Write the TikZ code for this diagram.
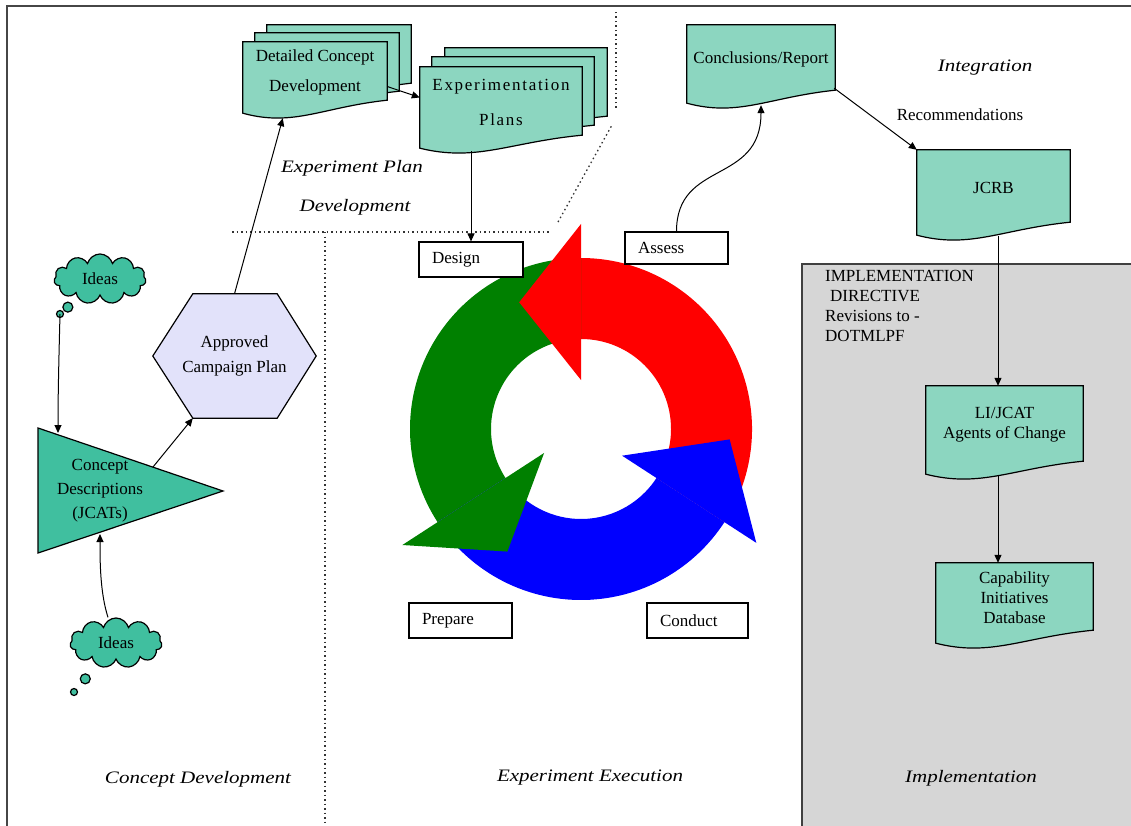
\documentclass[tikz,border=0pt]{standalone}
\usepackage{fontspec}
\setmainfont{Liberation Serif}
\newfontfamily\lblfont[FakeStretch=1.2]{Liberation Serif}
\newfontfamily\spacedfont[LetterSpace=10]{Liberation Serif}
\usetikzlibrary{arrows.meta,calc,shapes.callouts,shapes.symbols}

\pgfdeclarelayer{bgzero}
\pgfdeclarelayer{bgone}
\pgfsetlayers{bgzero,bgone,main}

\definecolor{docteal}{RGB}{140,214,192}
\definecolor{solidteal}{RGB}{64,191,159}
\definecolor{hexfill}{RGB}{226,226,250}
\definecolor{implgray}{RGB}{214,214,214}
\definecolor{framegray}{RGB}{70,70,70}
\definecolor{cgreen}{RGB}{0,128,0}

% document shape around a node: #2 name, (#3,#4) shift
\newcommand\docshape[4][]{%
  \path[#1] ($(#2.north west)+(#3,#4)$) -- ($(#2.north east)+(#3,#4)$)
    -- ($(#2.south east)+(#3,#4-3)$)
    .. controls ($(#2.south east)!0.45!(#2.south west)+(#3,#4+4)$)
    and ($(#2.south east)!0.65!(#2.south west)+(#3,#4+24)$)
    .. ($(#2.south west)+(#3,#4+10)$) -- cycle;}

\begin{document}
\begin{tikzpicture}[x=1pt,y=-1pt,
  font=\fontsize{17}{20}\selectfont,
  docnode/.style={rectangle, inner sep=0pt, align=center},
  docfill/.style={fill=docteal, draw=black, line width=1.2pt},
  box/.style={rectangle, draw=black, line width=1.1pt, fill=white,
    minimum height=35pt, inner xsep=13pt, inner ysep=0pt, align=left},
  arr/.style={-{Triangle[length=8pt,width=7pt]}, line width=1pt, black},
  lbl/.style={font={\lblfont\itshape\fontsize{17.5}{22}\selectfont}},
  divider/.style={line width=1.3pt, dash pattern=on 1.5pt off 3pt, black!80},
  ideas/.style={cloud callout, cloud puffs=11, aspect=1.8, draw=black,
    line width=1.2pt, fill=solidteal, minimum width=92pt, minimum height=50pt,
    inner sep=0pt, callout pointer segments=2,
    callout pointer start size=13pt,
    callout pointer end size=7pt},
]
\useasboundingbox (0,0) rectangle (1131,826);

% ---------- implementation region ----------
\begin{pgfonlayer}{bgzero}
  \fill[implgray] (802,264) rectangle (1140,832);
  \draw[black!75, line width=1.5pt] (1140,264) -- (802,264) -- (802,832);
\end{pgfonlayer}

% ---------- frame ----------
\draw[framegray, line width=2.5pt] (7,830) -- (7,6) -- (1135,6);

% ---------- dividers ----------
\draw[divider] (325,232) -- (325,826);
\draw[divider] (232,232) -- (551,232);
\draw[divider] (558,222) -- (612,125);
\draw[divider] (616,108) -- (616,9);

% ---------- document nodes ----------
\node[docnode, minimum width=144pt, minimum height=61pt] (dcd) at (315,72.5)
  {Detailed Concept\\[10pt]Development};
\node[docnode, minimum width=162pt, minimum height=71pt] (ep) at (501,102.5)
  {\spacedfont Experimentation\\[15pt]\spacedfont Plans};
\node[docnode, minimum width=148pt, minimum height=68pt] (concl) at (761,59)
  {Conclusions/Report};
\node[docnode, minimum width=153pt, minimum height=75pt] (jcrb) at (993.5,187.5)
  {JCRB};
\node[docnode, minimum width=157pt, minimum height=78pt] (lijcat) at (1004.5,425)
  {LI/JCAT\\Agents of Change};
\node[docnode, minimum width=157pt, minimum height=70pt] (capdb) at (1014.5,598)
  {Capability\\Initiatives\\Database};

\begin{pgfonlayer}{bgone}
  \docshape[docfill]{dcd}{24}{-17}
  \docshape[docfill]{dcd}{12}{-9}
  \docshape[docfill]{dcd}{0}{0}
  \docshape[docfill]{ep}{25}{-19}
  \docshape[docfill]{ep}{12}{-10}
  \docshape[docfill]{ep}{0}{0}
  \docshape[docfill]{concl}{0}{0}
  \docshape[docfill]{jcrb}{0}{0}
  \docshape[docfill]{lijcat}{0}{0}
  \docshape[docfill]{capdb}{0}{0}
\end{pgfonlayer}

% ---------- left column ----------
\node[align=center, inner sep=0pt] (cdesc) at (100,491)
  {Concept\\[4pt]Descriptions\\[4pt](JCATs)};
\node[minimum width=163pt, minimum height=124pt, inner sep=0pt, align=center]
  (hex) at (234.5,356) {Approved\\[5pt]Campaign Plan};
\begin{pgfonlayer}{bgone}
  \draw[fill=solidteal, line width=1.2pt, line join=miter]
    ($(cdesc)+(-62,-63)$) -- ($(cdesc)+(-62,62)$) -- ($(cdesc)+(123,0)$) -- cycle;
  \draw[fill=hexfill, line width=1.2pt]
    (hex.west) -- ($(hex.north west)+(40,0)$) -- ($(hex.north east)+(-39,0)$)
    -- (hex.east) -- ($(hex.south east)+(-39,0)$) -- ($(hex.south west)+(40,0)$) -- cycle;
\end{pgfonlayer}

\coordinate (tailone) at (60,314);
\coordinate (tailtwo) at (74,692);
\node[ideas, callout absolute pointer={(tailone)}] (ideas1) at (100,279) {Ideas};
\node[ideas, callout absolute pointer={(tailtwo)}] (ideas2) at (116,643) {Ideas};

% ---------- cycle ----------
\begin{scope}[shift={(581,429)}, yscale=-1]
  \fill[red] (-33:171) arc[start angle=-33, end angle=90, radius=171]
    -- (90:90) arc[start angle=90, end angle=-33, radius=90] -- cycle;
  \fill[cgreen] (90:171) arc[start angle=90, end angle=213, radius=171]
    -- (213:90) arc[start angle=213, end angle=90, radius=90] -- cycle;
  \fill[blue] (213:171) arc[start angle=213, end angle=327, radius=171]
    -- (327:90) arc[start angle=327, end angle=213, radius=90] -- cycle;
  \fill[red] (90:49) -- (90:205) -- (116:141) -- cycle;
  \fill[cgreen] (213:44) -- (213:213) -- (239:143) -- cycle;
  \fill[blue] (327:49) -- (327:209) -- (356:149) -- cycle;
\end{scope}

% ---------- phase boxes ----------
\node[box, text width=78pt] (design) at (471,259.5) {Design};
\node[box, text width=77pt, minimum height=32pt] (assess) at (676.5,248) {Assess};
\node[box, text width=77pt] (prepare) at (460.5,620.5) {Prepare};
\node[box, text width=75pt] (conduct) at (697.5,620.5) {Conduct};

% ---------- labels ----------
\node[lbl] (lblepa) at (352,168) {Experiment Plan};
\node[lbl] (lblepb) at (355,207) {Development};
\node[lbl] (lblint) at (985,68) {Integration};
\node (lblrec) at (960,115) {Recommendations};
\node[lbl] (lblcd) at (198,779) {Concept Development};
\node[lbl] (lblee) at (590,778) {Experiment Execution};
\node[lbl] (lblimp) at (971,778) {Implementation};
\node[anchor=north west, align=left, inner sep=0pt] (impdir) at (825,270)
  {IMPLEMENTATION\\\hspace*{5pt}DIRECTIVE\\Revisions to -\\DOTMLPF};

% ---------- connectors ----------
\coordinate (vline) at (998,0);
\draw[arr] (tailone) .. controls ($(tailone)+(-1,40)$)
  and ($(cdesc)+(-42,-98)$) .. ($(cdesc)+(-42,-58)$);
\draw[arr] ($(ideas2.north)+(-8,0)$) .. controls ($(ideas2.north)+(-16,-25)$)
  and ($(cdesc)+(0,70)$) .. ($(cdesc)+(0,43)$);
\draw[arr] ($(cdesc)+(53,-24)$) -- ($(hex.south west)+(40,0)$);
\draw[arr] (hex.north) -- ($(dcd.south west)+(40,15)$);
\draw[arr] ($(dcd.east)+(0,14)$) -- ($(ep.west)+(0,-5)$);
\draw[arr] ($(ep.south -| design.north)+(0,13)$) -- (design.north);
\draw[arr] (assess.north) .. controls ($(assess.north)+(0,-72)$)
  and ($(concl.south)+(0,92)$) .. ($(concl.south)+(0,12)$);
\draw[arr] ($(concl.south east)+(-1,-5)$) -- (jcrb.north west);
\draw[arr] ($(jcrb.south -| vline)+(0,11)$) -- (lijcat.north -| vline);
\draw[arr] ($(lijcat.south -| vline)+(0,12)$) -- (capdb.north -| vline);
\end{tikzpicture}
\end{document}
